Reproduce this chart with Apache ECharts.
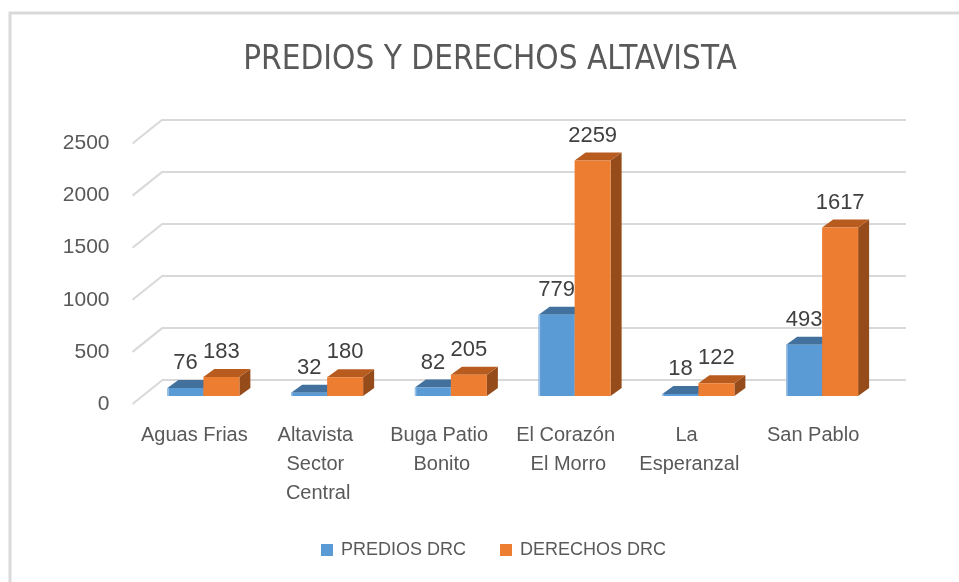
<!DOCTYPE html>
<html>
<head>
<meta charset="utf-8">
<script src="https://cdn.jsdelivr.net/npm/echarts@6/dist/echarts.min.js"></script>
<style>
  html, body { margin: 0; padding: 0; background: #ffffff; }
  #chart { width: 959px; height: 582px; }
</style>
</head>
<body>
<div id="chart"></div>
<script>
// Data
const categories = ['Aguas Frias', 'Altavista Sector Central', 'Buga Patio Bonito', 'El Corazón El Morro', 'La Esperanzal', 'San Pablo'];
const prediosDRC = [76, 32, 82, 779, 18, 493];
const derechosDRC = [183, 180, 205, 2259, 122, 1617];
const yTicks = [0, 500, 1000, 1500, 2000, 2500];
const seriesNames = ['PREDIOS DRC', 'DERECHOS DRC'];

// Pseudo-3D geometry (pixels)
const WALL_DX = 30, WALL_DY = -24;   // floor front edge -> back wall
const PLANE_DX = 9, PLANE_DY = -8;   // floor front edge -> bar front plane
const DEPTH_DX = 11, DEPTH_DY = -8;  // bar depth
const BAR_W = 36;

const palette = [
  { front: '#5B9BD5', top: '#41719C', side: '#35628C', edge: '#9DC3E6' },
  { front: '#ED7D31', top: '#B85B1F', side: '#964B1B', edge: null }
];

const FONT = "'Liberation Sans', Arial, sans-serif";
const TEXT_COLOR = '#595959';

function barRenderer(slot) {
  const c = palette[slot];
  return function (params, api) {
    const cat = api.value(0);
    const val = api.value(1);
    const base = api.coord([cat, 0]);
    const top = api.coord([cat, val]);
    const x0 = base[0] + PLANE_DX + (slot === 0 ? -BAR_W : 0);
    const x1 = x0 + BAR_W;
    const yb = base[1] + PLANE_DY;
    const yt = top[1] + PLANE_DY;
    const children = [
      { type: 'polygon', shape: { points: [[x1, yb], [x1 + DEPTH_DX, yb + DEPTH_DY], [x1 + DEPTH_DX, yt + DEPTH_DY], [x1, yt]] },
        style: { fill: c.side } },
      { type: 'polygon', shape: { points: [[x0, yt], [x1, yt], [x1 + DEPTH_DX, yt + DEPTH_DY], [x0 + DEPTH_DX, yt + DEPTH_DY]] },
        style: { fill: c.top } },
      { type: 'rect', shape: { x: x0, y: yt, width: BAR_W, height: yb - yt },
        style: { fill: c.front } }
    ];
    if (c.edge) {
      children.push({ type: 'rect', shape: { x: x0, y: yt, width: 1.5, height: yb - yt }, style: { fill: c.edge } });
    }
    children.push({
      type: 'text',
      style: {
        text: String(val), x: x0 + BAR_W / 2, y: yt - 25,
        align: 'center', verticalAlign: 'middle',
        fontSize: 22, fontFamily: FONT, fill: '#404040'
      }
    });
    return { type: 'group', children: children };
  };
}

function diagonalRenderer(params, api) {
  const cs = params.coordSys;
  const p = api.coord([0, api.value(0)]);
  return {
    type: 'line',
    shape: { x1: cs.x, y1: p[1], x2: cs.x + WALL_DX, y2: p[1] + WALL_DY },
    style: { stroke: '#D9D9D9', lineWidth: 2 }
  };
}

const chart = echarts.init(document.getElementById('chart'), null, { renderer: 'canvas' });

chart.setOption({
  backgroundColor: '#ffffff',
  animation: false,
  graphic: [
    { type: 'rect', shape: { x: 10, y: 13, width: 1000, height: 640 },
      style: { fill: 'none', stroke: '#D9D9D9', lineWidth: 3 }, z: -10 },
    { type: 'text', x: 490, y: 60,
      style: { text: 'PREDIOS Y DERECHOS ALTAVISTA', align: 'center', verticalAlign: 'middle',
        fontSize: 33, fontFamily: "'Liberation Sans Narrow', 'DejaVu Sans Condensed', sans-serif",
        fill: TEXT_COLOR } }
  ],
  legend: {
    left: 321, top: 541, padding: 0,
    itemWidth: 12, itemHeight: 12, itemGap: 34,
    icon: 'rect',
    data: seriesNames,
    textStyle: { fontSize: 18, fontFamily: FONT, color: TEXT_COLOR, padding: [0, 0, 0, 3] }
  },
  grid: [
    // back wall
    { left: 162, right: 53, top: 119.5, bottom: 202 },
    // floor front edge
    { left: 132.5, right: 84, top: 143.5, bottom: 178 }
  ],
  xAxis: [
    { gridIndex: 0, type: 'category', data: categories, show: false },
    { gridIndex: 1, type: 'category', data: categories,
      axisLine: { show: false }, axisTick: { show: false },
      axisLabel: { interval: 0, fontSize: 20, lineHeight: 29, margin: 17, color: TEXT_COLOR,
        fontFamily: FONT, width: 112, overflow: 'break', align: 'center' } }
  ],
  yAxis: [
    { gridIndex: 0, type: 'value', min: 0, max: 2500, interval: 500,
      axisLine: { show: false }, axisTick: { show: false }, axisLabel: { show: false },
      splitLine: { lineStyle: { color: '#D9D9D9', width: 2 } } },
    { gridIndex: 1, type: 'value', min: 0, max: 2500, interval: 500,
      axisLine: { show: false }, axisTick: { show: false }, splitLine: { show: false },
      axisLabel: { fontSize: 21, margin: 23, color: TEXT_COLOR, fontFamily: FONT,
        formatter: v => String(v) } }
  ],
  series: [
    { type: 'custom', name: 'wall-edges', xAxisIndex: 1, yAxisIndex: 1, clip: false, silent: true,
      data: yTicks.map(v => [v]), encode: { y: 0 }, renderItem: diagonalRenderer, z: 1 },
    { type: 'custom', name: seriesNames[0], xAxisIndex: 1, yAxisIndex: 1, clip: false,
      itemStyle: { color: palette[0].front },
      data: prediosDRC.map((v, i) => [i, v]), encode: { x: 0, y: 1 },
      renderItem: barRenderer(0), z: 3 },
    { type: 'custom', name: seriesNames[1], xAxisIndex: 1, yAxisIndex: 1, clip: false,
      itemStyle: { color: palette[1].front },
      data: derechosDRC.map((v, i) => [i, v]), encode: { x: 0, y: 1 },
      renderItem: barRenderer(1), z: 4 }
  ]
});
</script>
</body>
</html>
